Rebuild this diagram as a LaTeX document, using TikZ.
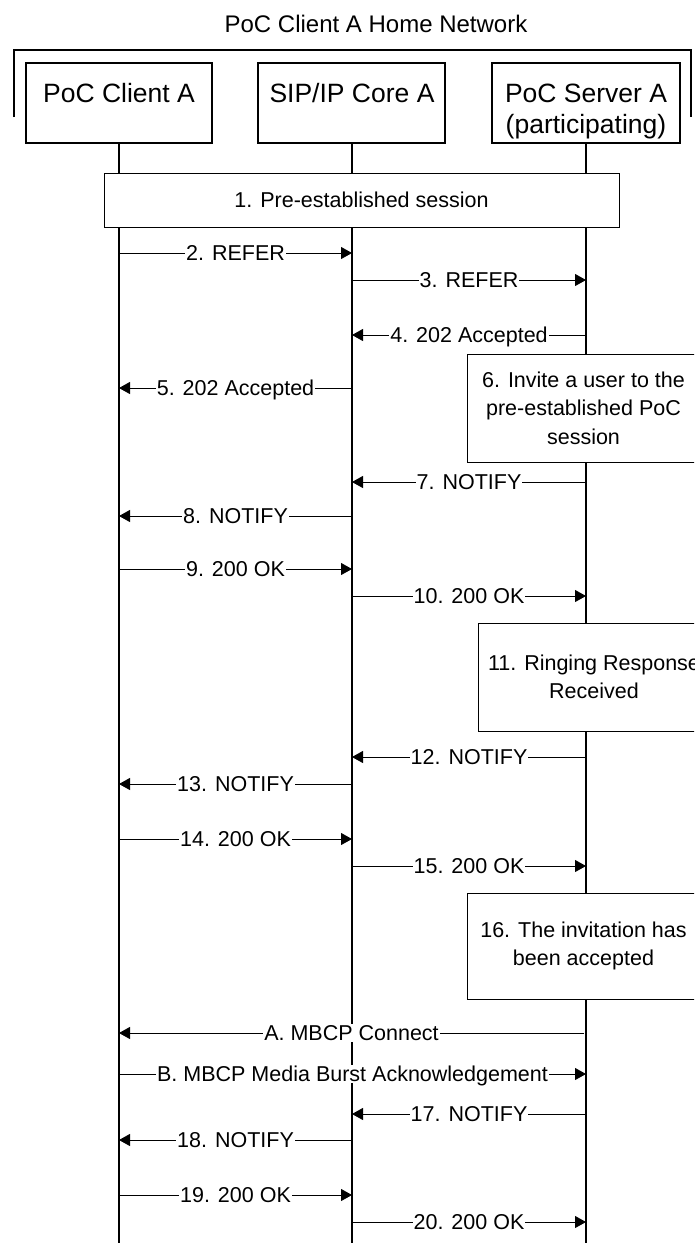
\documentclass[tikz,border=0pt]{standalone}
\usepackage{fontspec}
\setmainfont{Liberation Sans}
\usetikzlibrary{arrows.meta}
\tikzset{
  pbox/.style={draw, line width=1.2pt, fill=white, inner sep=0pt},
  ptxt/.style={font=\fontsize{26.5}{30}\selectfont, inner sep=0pt, anchor=base},
  life/.style={line width=1.3pt},
  bracketline/.style={line width=1.8pt},
  msg/.style={line width=0.9pt, -{Triangle[length=11pt,width=12pt]}},
  lbl/.style={fill=white, inner xsep=1pt, inner ysep=1pt, text height=15.5pt, text depth=0pt,
              font=\fontsize{21.5}{26}\selectfont},
  actbox/.style={draw, line width=1.0pt, fill=white, align=center, inner sep=0pt,
              font=\fontsize{21.5}{28.5}\selectfont},
  titletxt/.style={font=\fontsize{24}{28}\selectfont, inner sep=0pt, anchor=base}
}
\newcommand\msgline[5]{%
  \coordinate (s#5) at (#1,#3);
  \coordinate (e#5) at (#2,#3);
  \draw[msg] (s#5) -- node[lbl] (l#5) {#4} (e#5);}
\begin{document}
\begin{tikzpicture}[x=1pt,y=-1pt]
\useasboundingbox (0,0) rectangle (694,1243);
\clip (0,0) rectangle (694,1243);
% title
\node[titletxt] (title) at (376,32) {PoC Client A Home Network};
% bracket
\coordinate (bl) at (14,117);
\coordinate (blt) at (14,50);
\coordinate (brt) at (691,50);
\coordinate (br) at (691,117);
\draw[bracketline] (bl) -- (blt) -- (brt) -- (br);
% participants
\node[pbox, minimum width=186pt, minimum height=80pt] (A) at (119,103) {};
\node[pbox, minimum width=187pt, minimum height=80pt] (S) at (351.5,103) {};
\node[pbox, minimum width=188pt, minimum height=80pt] (P) at (586,103) {};
\node[ptxt] (At) at (119,102) {PoC Client A};
\node[ptxt] (St) at (352,102) {SIP/IP Core A};
\node[ptxt] (Pt1) at (586,102) {PoC Server A};
\node[ptxt] (Pt2) at (586,133) {(participating)};
% lifelines
\coordinate (bot) at (0,1250);
\draw[life] (119,143) -- (119,1250);
\draw[life] (352,143) -- (352,1250);
\draw[life] (586,143) -- (586,1250);
% action boxes
\node[actbox, minimum width=515pt, minimum height=54pt] (b1) at (361.5,200) {1. Pre-established session};
\node[actbox, minimum width=233pt, minimum height=108pt] (b6) at (583.5,408) {6. Invite a user to the\\pre-established PoC\\session};
\node[actbox, minimum width=232pt, minimum height=108pt] (b11) at (594,677) {11. Ringing Response\\Received};
\node[actbox, minimum width=233pt, minimum height=106pt] (b16) at (583.5,946) {16. The invitation has\\been accepted};
% messages
\msgline{119}{352}{253}{2. REFER}{m2}
\msgline{352}{586}{280}{3. REFER}{m3}
\msgline{586}{352}{335}{4. 202 Accepted}{m4}
\msgline{352}{119}{388}{5. 202 Accepted}{m5}
\msgline{586}{352}{482}{7. NOTIFY}{m7}
\msgline{352}{119}{516}{8. NOTIFY}{m8}
\msgline{119}{352}{569}{9. 200 OK}{m9}
\msgline{352}{586}{596}{10. 200 OK}{m10}
\msgline{586}{352}{757}{12. NOTIFY}{m12}
\msgline{352}{119}{784}{13. NOTIFY}{m13}
\msgline{119}{352}{839}{14. 200 OK}{m14}
\msgline{352}{586}{866}{15. 200 OK}{m15}
\msgline{584}{119}{1033}{A. MBCP Connect}{mA}
\msgline{119}{586}{1074}{B. MBCP Media Burst Acknowledgement}{mB}
\msgline{586}{352}{1114}{17. NOTIFY}{m17}
\msgline{352}{119}{1140}{18. NOTIFY}{m18}
\msgline{119}{352}{1195}{19. 200 OK}{m19}
\msgline{352}{586}{1222}{20. 200 OK}{m20}
\end{tikzpicture}
\end{document}
